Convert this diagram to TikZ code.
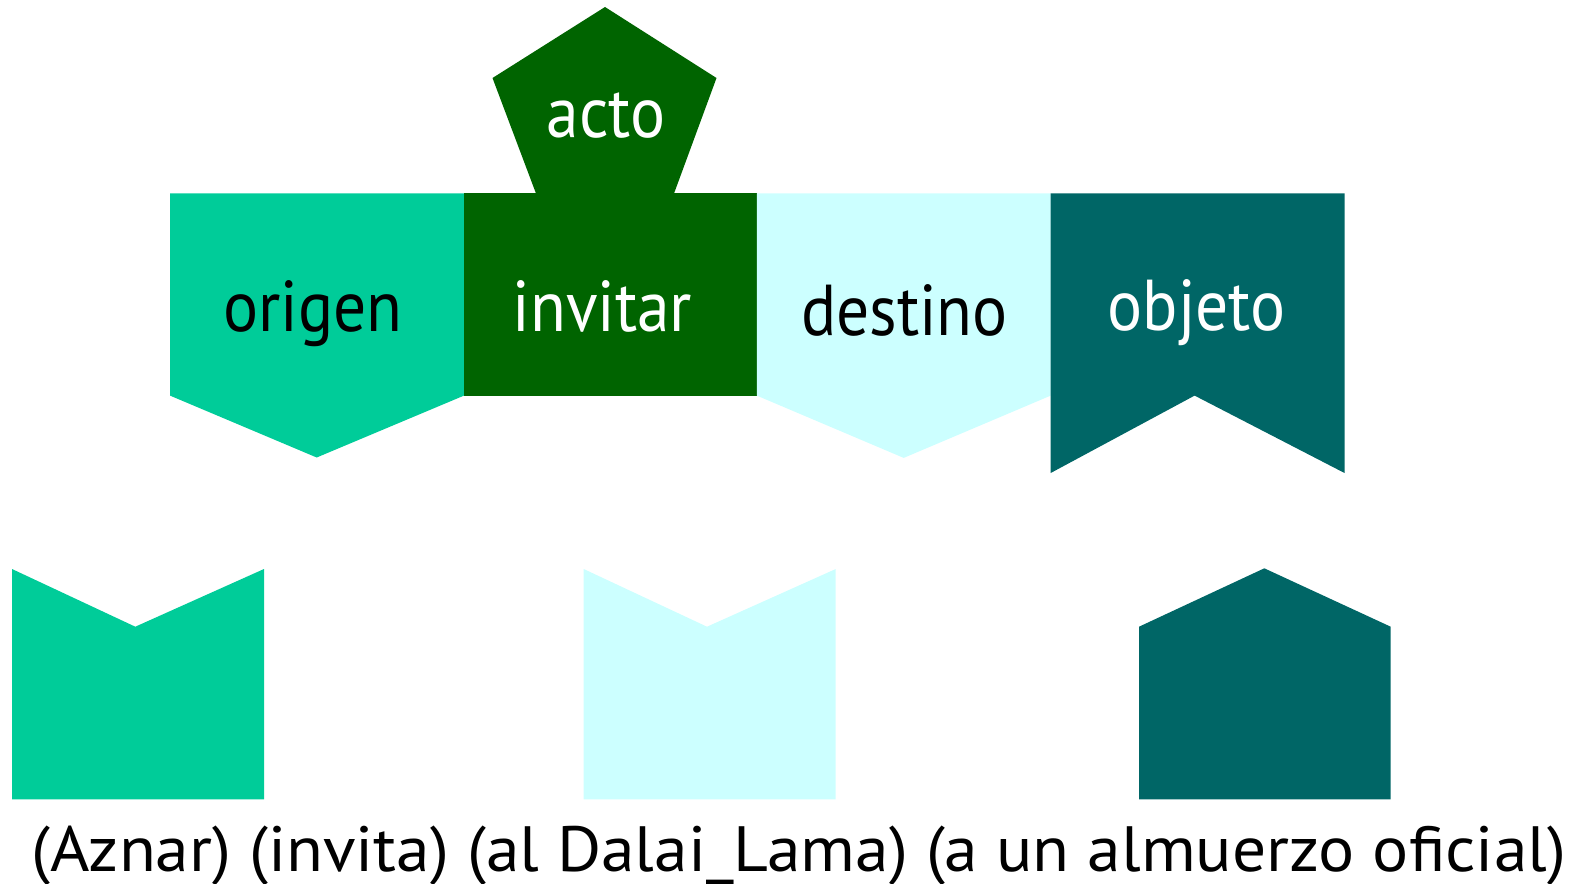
\documentclass[tikz,border=0pt]{standalone}
\usepackage{fontspec}
\setmainfont{PT Sans}
\newfontfamily\rolefont[FakeStretch=0.91]{PT Sans}
\newfontfamily\phrasefont[FakeStretch=1.055]{PT Sans}
\definecolor{origencol}{HTML}{00CC99}
\definecolor{actocol}{HTML}{006400}
\definecolor{destinocol}{HTML}{CCFFFF}
\definecolor{objetocol}{HTML}{006666}
\begin{document}
\begin{tikzpicture}[x=1pt,y=-1pt,
    rolelabel/.style={font=\rolefont\fontsize{72}{72}\selectfont, inner sep=0pt, anchor=base},
    phrase/.style={font=\phrasefont\fontsize{64}{64}\selectfont, inner sep=0pt, anchor=base}
  ]
  \useasboundingbox (0,0) rectangle (1578,883);

  % the act on top
  \fill[actocol] (605,7) -- (716.5,78) -- (674,193.5) -- (536,193.5) -- (492.5,78) -- cycle;

  % the row of roles
  \fill[origencol] (170,193.3) -- (464,193.3) -- (464,395.6) -- (316.7,457.5) -- (170,395.6) -- cycle;
  \fill[actocol] (464,193.3) rectangle (756.8,395.6);
  \fill[destinocol] (756.8,193.3) -- (1050.7,193.3) -- (1050.7,395.6) -- (903.7,457.9) -- (756.8,395.6) -- cycle;
  \fill[objetocol] (1050.7,193.3) -- (1344.5,193.3) -- (1344.5,473) -- (1194.6,395.6) -- (1050.7,473) -- cycle;

  % the fillers below
  \fill[origencol] (12,569) -- (135.3,626.7) -- (264,569) -- (264,799.3) -- (12,799.3) -- cycle;
  \fill[destinocol] (583.7,569) -- (707,626.7) -- (835.7,569) -- (835.7,799.3) -- (583.7,799.3) -- cycle;
  \fill[objetocol] (1139,626.7) -- (1264.3,568.3) -- (1390.7,626.7) -- (1390.7,799.3) -- (1139,799.3) -- cycle;

  \node[rolelabel,text=white] (acto) at (606,137) {acto};
  \node[rolelabel] (origen) at (313,331.7) {origen};
  \node[rolelabel,text=white] (invitar) at (602.5,331) {invitar};
  \node[rolelabel] (destino) at (904.5,335) {destino};
  \node[rolelabel,text=white] (objeto) at (1196.5,330) {objeto};

  \node[phrase] (frase) at (799,871.5) {(Aznar) (invita) (al Dalai\_Lama) (a un almuerzo oficial)};
\end{tikzpicture}
\end{document}
